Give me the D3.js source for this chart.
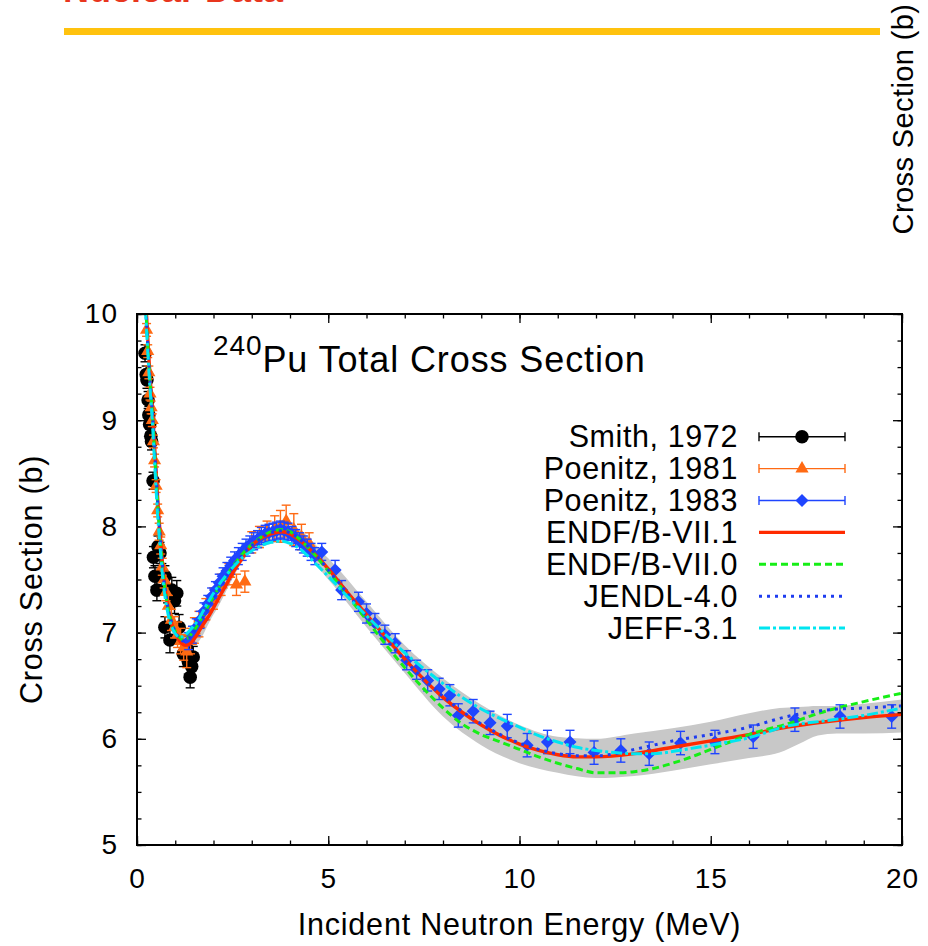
<!DOCTYPE html>
<html><head><meta charset="utf-8">
<script src="https://cdn.jsdelivr.net/npm/d3@7"></script>
<style>body{margin:0;background:#fff}svg{display:block}text{font-family:"Liberation Sans",Arial,Helvetica,sans-serif}</style>
</head><body><svg id="c" width="928" height="946"></svg>
<script>
// ---------- data ----------
const xTicks=[0,5,10,15,20];
const yTicks=[5,6,7,8,9,10];
const xMinor=d3.range(0,21,1);
const yMinor=d3.range(5,10.01,0.25);
const legendLabels=["Smith, 1972","Poenitz, 1981","Poenitz, 1983","ENDF/B-VII.1","ENDF/B-VII.0","JENDL-4.0","JEFF-3.1"];
// [E (MeV), sigma (b), err]
const smith1972=[[0.21,9.63,0.08],[0.24,9.43,0.08],[0.26,9.38,0.08],[0.29,9.19,0.08],[0.31,9.05,0.08],[0.33,8.96,0.08],[0.36,8.85,0.08],[0.38,8.80,0.08],[0.42,8.43,0.08],[0.43,7.71,0.10],[0.47,7.53,0.10],[0.52,7.40,0.10],[0.55,7.81,0.10],[0.60,7.75,0.10],[0.65,7.55,0.10],[0.73,7.53,0.10],[0.73,7.05,0.10],[0.80,7.40,0.12],[0.86,6.93,0.12],[0.91,7.40,0.12],[0.98,7.30,0.12],[1.04,7.37,0.12],[1.10,7.05,0.12],[1.21,6.80,0.12],[1.30,6.85,0.12],[1.34,6.73,0.12],[1.39,6.58,0.10],[1.43,6.68,0.10],[1.47,6.77,0.10]];
const poenitz1981=[[0.25,9.85,0.06],[0.28,9.65,0.06],[0.31,9.45,0.06],[0.34,9.25,0.06],[0.37,9.12,0.06],[0.40,9.00,0.06],[0.43,8.80,0.06],[0.46,8.62,0.06],[0.50,8.38,0.06],[0.54,8.15,0.06],[0.58,7.95,0.08],[0.62,7.82,0.08],[0.66,7.62,0.08],[0.71,7.50,0.08],[0.76,7.38,0.08],[0.82,7.25,0.10],[0.90,7.12,0.10],[0.98,7.05,0.10],[1.06,6.98,0.12],[1.14,6.92,0.12],[1.22,6.86,0.12],[1.30,6.82,0.15],[1.40,6.92,0.12],[1.50,7.02,0.12],[1.62,7.08,0.12],[1.80,7.22,0.10],[2.00,7.32,0.10],[2.20,7.45,0.10],[2.40,7.55,0.10],[2.60,7.45,0.10],[2.82,7.48,0.10],[3.00,7.85,0.10],[3.20,7.90,0.10],[3.40,7.95,0.10],[3.60,7.98,0.12],[3.75,8.00,0.15],[3.90,8.05,0.15],[4.10,7.97,0.15],[4.30,7.90,0.12],[4.50,7.84,0.10]];
const poenitz1983=[[1.35,6.92,0.08],[1.45,6.98,0.08],[1.55,7.05,0.08],[1.65,7.12,0.08],[1.75,7.20,0.08],[1.85,7.27,0.08],[1.95,7.34,0.08],[2.05,7.40,0.08],[2.15,7.47,0.08],[2.25,7.53,0.08],[2.35,7.58,0.08],[2.45,7.63,0.08],[2.55,7.68,0.08],[2.65,7.72,0.08],[2.75,7.76,0.08],[2.85,7.80,0.08],[2.95,7.83,0.08],[3.05,7.86,0.08],[3.15,7.88,0.08],[3.25,7.91,0.08],[3.35,7.93,0.08],[3.45,7.94,0.08],[3.55,7.95,0.08],[3.65,7.96,0.08],[3.75,7.97,0.08],[3.85,7.96,0.08],[3.95,7.95,0.08],[4.05,7.92,0.08],[4.15,7.89,0.08],[4.25,7.86,0.08],[4.35,7.83,0.08],[4.45,7.80,0.08],[4.55,7.76,0.08],[4.65,7.72,0.08],[4.83,7.76,0.08],[5.18,7.59,0.09],[5.35,7.40,0.09],[5.79,7.29,0.09],[6.00,7.18,0.09],[6.22,7.09,0.09],[6.48,6.98,0.09],[6.75,6.90,0.09],[7.05,6.74,0.09],[7.31,6.65,0.09],[7.60,6.55,0.10],[7.90,6.47,0.10],[8.18,6.41,0.10],[8.40,6.22,0.11],[8.79,6.26,0.11],[9.23,6.15,0.11],[9.68,6.12,0.11],[10.20,5.94,0.11],[10.73,5.97,0.11],[11.32,5.97,0.11],[11.95,5.87,0.11],[12.65,5.89,0.11],[13.39,5.86,0.11],[14.21,5.96,0.11],[15.11,5.97,0.11],[16.11,6.02,0.11],[17.20,6.18,0.11],[18.38,6.21,0.11],[19.73,6.21,0.11]];
// [E, sigma]
const endfb71=[[0.24,10.05],[0.3,9.65],[0.35,9.36],[0.41,9.06],[0.48,8.63],[0.56,8.15],[0.62,7.86],[0.69,7.56],[0.76,7.35],[0.84,7.18],[0.92,7.07],[1.0,7.0],[1.1,6.93],[1.2,6.89],[1.28,6.88],[1.4,6.9],[1.55,6.97],[1.7,7.06],[1.9,7.17],[2.1,7.30],[2.3,7.43],[2.5,7.56],[2.75,7.70],[3.0,7.82],[3.25,7.89],[3.5,7.93],[3.8,7.95],[4.0,7.93],[4.25,7.87],[4.5,7.79],[4.75,7.70],[5.0,7.60],[5.5,7.38],[6.0,7.17],[6.5,6.96],[7.0,6.75],[7.5,6.56],[8.0,6.39],[8.5,6.25],[9.0,6.13],[9.5,6.03],[10.0,5.95],[10.5,5.89],[11.0,5.85],[11.5,5.83],[12.0,5.83],[13.0,5.86],[14.0,5.92],[15.0,5.98],[16.0,6.04],[17.0,6.11],[18.0,6.16],[19.0,6.20],[20.0,6.23]];
const endfb70=[[0.23,10.05],[0.3,9.6],[0.35,9.32],[0.41,9.02],[0.48,8.58],[0.56,8.10],[0.62,7.82],[0.69,7.53],[0.76,7.34],[0.84,7.18],[0.92,7.08],[1.0,7.01],[1.1,6.96],[1.2,6.93],[1.3,6.94],[1.45,7.0],[1.6,7.08],[1.8,7.21],[2.0,7.34],[2.2,7.46],[2.4,7.57],[2.6,7.67],[2.8,7.76],[3.0,7.83],[3.25,7.90],[3.5,7.95],[3.8,7.97],[4.0,7.95],[4.25,7.88],[4.5,7.79],[4.75,7.69],[5.0,7.58],[5.5,7.35],[6.0,7.12],[6.5,6.89],[7.0,6.67],[7.5,6.47],[8.0,6.29],[8.5,6.14],[9.0,6.04],[9.5,5.97],[10.0,5.90],[10.5,5.83],[11.0,5.77],[11.5,5.72],[12.0,5.68],[12.5,5.68],[13.0,5.69],[13.5,5.72],[14.0,5.77],[14.5,5.83],[15.0,5.90],[15.5,5.97],[16.0,6.04],[17.0,6.14],[18.0,6.26],[19.0,6.35],[20.0,6.43]];
const jendl40=[[0.23,10.05],[0.3,9.6],[0.35,9.33],[0.41,9.03],[0.48,8.60],[0.56,8.12],[0.62,7.83],[0.69,7.54],[0.76,7.34],[0.84,7.18],[0.92,7.08],[1.0,7.01],[1.1,6.95],[1.2,6.92],[1.3,6.93],[1.45,6.99],[1.6,7.07],[1.8,7.20],[2.0,7.33],[2.2,7.45],[2.4,7.56],[2.6,7.66],[2.8,7.75],[3.0,7.82],[3.25,7.89],[3.5,7.94],[3.8,7.96],[4.0,7.94],[4.25,7.88],[4.5,7.80],[4.75,7.70],[5.0,7.59],[5.5,7.37],[6.0,7.15],[6.5,6.94],[7.0,6.74],[7.5,6.56],[8.0,6.40],[8.5,6.26],[9.0,6.14],[9.5,6.04],[10.0,5.96],[10.5,5.90],[11.0,5.86],[11.5,5.84],[12.0,5.84],[12.5,5.86],[13.0,5.90],[13.5,5.94],[14.0,5.98],[15.0,6.04],[16.0,6.11],[17.0,6.21],[18.0,6.27],[19.0,6.29],[20.0,6.31]];
const jeff31=[[0.22,10.05],[0.28,9.65],[0.33,9.35],[0.39,9.05],[0.46,8.6],[0.54,8.1],[0.6,7.82],[0.67,7.52],[0.74,7.32],[0.82,7.16],[0.9,7.06],[1.0,6.99],[1.1,6.96],[1.2,6.96],[1.3,6.99],[1.45,7.05],[1.6,7.12],[1.8,7.25],[2.0,7.37],[2.2,7.48],[2.4,7.57],[2.6,7.65],[2.8,7.72],[3.0,7.77],[3.25,7.82],[3.5,7.85],[3.8,7.86],[4.0,7.84],[4.25,7.79],[4.5,7.71],[4.75,7.62],[5.0,7.53],[5.5,7.34],[6.0,7.16],[6.5,6.98],[7.0,6.81],[7.5,6.66],[8.0,6.52],[8.5,6.39],[9.0,6.28],[9.5,6.19],[10.0,6.11],[10.5,6.03],[11.0,5.97],[11.5,5.92],[12.0,5.89],[12.5,5.87],[13.0,5.86],[13.5,5.86],[14.0,5.88],[14.5,5.91],[15.0,5.94],[16.0,6.01],[17.0,6.12],[18.0,6.17],[19.0,6.22],[20.0,6.29]];
// uncertainty band [E, low, high]
const band=[[0.24,10.0,10.1],[0.5,8.27,8.37],[1.0,6.95,7.05],[1.5,6.89,6.99],[2.0,7.17,7.29],[3.0,7.76,7.88],[4.0,7.86,8.0],[5.0,7.50,7.70],[6.0,7.05,7.29],[7.0,6.62,6.88],[8.0,6.21,6.57],[9.0,5.94,6.32],[10.0,5.77,6.13],[11.0,5.68,6.02],[12.0,5.63,6.00],[13.0,5.65,6.05],[14.0,5.70,6.10],[15.0,5.76,6.16],[16.0,5.82,6.24],[16.8,5.87,6.29],[17.3,5.95,6.30],[17.8,6.03,6.31],[18.3,6.05,6.31],[19.0,6.05,6.33],[20.0,6.06,6.37]];

// ---------- drawing ----------
const svg=d3.select("#c");
const L=137,R=902,T=314,B=845;
const x=d3.scaleLinear().domain([0,20]).range([L,R]);
const y=d3.scaleLinear().domain([5,10]).range([B,T]);

// top decorations (slide remnants)
svg.append("text").attr("x",63).attr("y",2).attr("fill","#E8361E").attr("font-weight","bold").attr("font-size",36).text("Nuclear Data");
svg.append("rect").attr("x",64).attr("y",28).attr("width",816).attr("height",7).attr("fill","#FFC20E");
svg.append("text").attr("transform","translate(913,119) rotate(-90)").attr("text-anchor","middle").attr("font-size",29).attr("letter-spacing",0.4).text("Cross Section (b)");

svg.append("clipPath").attr("id","pc").append("rect").attr("x",L).attr("y",T).attr("width",R-L).attr("height",B-T);
const g=svg.append("g").attr("clip-path","url(#pc)");

// band
g.append("path").datum(band).attr("fill","#C8C8C8")
 .attr("d",d3.area().x(d=>x(d[0])).y0(d=>y(d[1])).y1(d=>y(d[2])).curve(d3.curveMonotoneX));

function errbars(data,color,sw){
  const gg=g.append("g").attr("stroke",color).attr("stroke-width",sw).attr("fill","none");
  data.forEach(d=>{
    const cx=x(d[0]),y1=y(d[1]-d[2]),y2=y(d[1]+d[2]);
    gg.append("line").attr("x1",cx).attr("x2",cx).attr("y1",y1).attr("y2",y2);
    gg.append("line").attr("x1",cx-4.5).attr("x2",cx+4.5).attr("y1",y1).attr("y2",y1);
    gg.append("line").attr("x1",cx-4.5).attr("x2",cx+4.5).attr("y1",y2).attr("y2",y2);
  });
}
const sym={circle:d3.symbol().type(d3.symbolCircle).size(145)(),
  tri:d3.symbol().type(d3.symbolTriangle).size(75)(),
  diamond:"M0,-6.5L6.5,0L0,6.5L-6.5,0Z"};

errbars(smith1972,"#000",1.4);
g.append("g").selectAll("path").data(smith1972).join("path").attr("d",sym.circle).attr("fill","#000")
 .attr("transform",d=>`translate(${x(d[0])},${y(d[1])})`);
errbars(poenitz1981,"#FF6A13",1.4);
g.append("g").selectAll("path").data(poenitz1981).join("path").attr("d",sym.tri).attr("fill","#FF6A13")
 .attr("transform",d=>`translate(${x(d[0])},${y(d[1])})`);
errbars(poenitz1983,"#1F45FF",1.4);
g.append("g").selectAll("path").data(poenitz1983).join("path").attr("d",sym.diamond).attr("fill","#1F45FF")
 .attr("transform",d=>`translate(${x(d[0])},${y(d[1])})`);

const line=d3.line().x(d=>x(d[0])).y(d=>y(d[1])).curve(d3.curveMonotoneX);
const curveStyles=[
  {data:endfb71,color:"#FF2A00",w:3.4,dash:null},
  {data:endfb70,color:"#16EE16",w:3,dash:"7,4"},
  {data:jendl40,color:"#1E3CF0",w:3,dash:"3,5"},
  {data:jeff31,color:"#00E5F0",w:3,dash:"11,3,3,3"}];
curveStyles.forEach(c=>{
  g.append("path").datum(c.data).attr("fill","none").attr("stroke",c.color).attr("stroke-width",c.w)
   .attr("stroke-dasharray",c.dash).attr("d",line);
});

// axes
const fs=28;
function ax(gen,tr,maj,min,labels,pad){
  const a=svg.append("g").attr("transform",tr);
  a.call(gen.tickValues(min).tickSize(-4.5).tickFormat("").tickSizeOuter(0));
  a.select(".domain").remove();
  const b=svg.append("g").attr("transform",tr);
  b.call(gen.tickValues(maj).tickSize(-9).tickPadding(pad).tickFormat(labels?d3.format("d"):"").tickSizeOuter(0));
  b.select(".domain").remove();
  b.selectAll("text").attr("font-size",fs).attr("fill","#000").attr("letter-spacing",1).style("font-family",'"Liberation Sans",Arial,sans-serif');
  b.selectAll("line,path").attr("stroke","#000").attr("stroke-width",1.3);
  a.selectAll("line").attr("stroke","#000").attr("stroke-width",1.3);
}
ax(d3.axisBottom(x),`translate(0,${B})`,xTicks,xMinor,true,23);
ax(d3.axisTop(x),`translate(0,${T})`,xTicks,xMinor,false,0);
ax(d3.axisLeft(y),`translate(${L},0)`,yTicks,yMinor,true,19);
ax(d3.axisRight(y),`translate(${R},0)`,yTicks,yMinor,false,0);
svg.append("rect").attr("x",L).attr("y",T).attr("width",R-L).attr("height",B-T).attr("fill","none").attr("stroke","#000").attr("stroke-width",2);

// axis titles
svg.append("text").attr("x",(L+R)/2).attr("y",935).attr("text-anchor","middle").attr("font-size",30.5).attr("letter-spacing",0.8).text("Incident Neutron Energy (MeV)");
svg.append("text").attr("transform",`translate(42,${(T+B)/2}) rotate(-90)`).attr("text-anchor","middle").attr("font-size",30.5).attr("letter-spacing",0.8).text("Cross Section (b)");

// title
const tt=svg.append("text").attr("x",213).attr("y",372).attr("font-size",36).attr("letter-spacing",0.9);
tt.append("tspan").attr("font-size",28).attr("dy",-17).text("240");
tt.append("tspan").attr("dy",17).text("Pu Total Cross Section");

// legend
const lg=svg.append("g");
const colors=["#000","#FF6A13","#1F45FF"];
legendLabels.forEach((lab,i)=>{
  const cy=436.7+i*31.9;
  lg.append("text").attr("x",738).attr("y",cy+10.5).attr("text-anchor","end").attr("font-size",30.5).attr("letter-spacing",0.6).text(lab);
  if(i<3){
    const c=colors[i];
    lg.append("line").attr("x1",759).attr("x2",845).attr("y1",cy).attr("y2",cy).attr("stroke",c).attr("stroke-width",1.4);
    [759,845].forEach(xx=>lg.append("line").attr("x1",xx).attr("x2",xx).attr("y1",cy-4.5).attr("y2",cy+4.5).attr("stroke",c).attr("stroke-width",1.4));
    lg.append("path").attr("d",[sym.circle,sym.tri,sym.diamond][i]).attr("fill",c).attr("transform",`translate(802,${cy})`);
  } else {
    const c=curveStyles[i-3];
    lg.append("line").attr("x1",759).attr("x2",845).attr("y1",cy).attr("y2",cy).attr("stroke",c.color).attr("stroke-width",c.w).attr("stroke-dasharray",c.dash);
  }
});
</script></body></html>
